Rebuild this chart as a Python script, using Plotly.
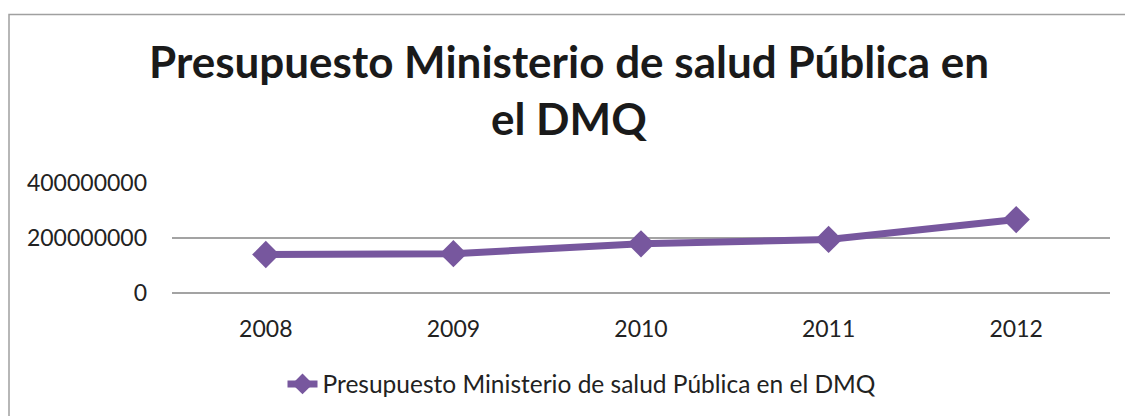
import plotly.graph_objects as go

years = ["2008", "2009", "2010", "2011", "2012"]
presupuesto = [140000000, 143000000, 179000000, 195000000, 267000000]
y_ticks = [0, 200000000, 400000000]
title_line1 = "Presupuesto Ministerio de salud Pública en"
title_line2 = "el DMQ"
series_name = "Presupuesto Ministerio de salud Pública en el DMQ"

W, H = 1125, 416
L, R = 172, 1110
T, B = 183, 294
pw, ph = R - L, B - T

def px(x):
    return (x - L) / pw

def py(y):
    return (B - y) / ph

purple = "#77579E"
grid = "#A3A3A3"
font = "Lato"

fig = go.Figure()
fig.add_trace(go.Scatter(
    x=years, y=presupuesto, name=series_name, mode="lines+markers",
    line=dict(color=purple, width=7),
    marker=dict(symbol="diamond", size=21, color=purple),
))

fig.update_layout(
    width=W, height=H,
    margin=dict(l=L, r=W - R, t=T, b=H - B),
    paper_bgcolor="white", plot_bgcolor="white",
    font=dict(family=font, size=23, color="#222222"),
    showlegend=True,
    legend=dict(orientation="h", x=px(582), y=py(384), xanchor="center", yanchor="middle",
                font=dict(family=font, size=24.5, color="#222222"), bgcolor="rgba(0,0,0,0)"),
    xaxis=dict(type="category", range=[-0.5, 4.5], showgrid=False, showline=False,
               ticks="", ticklabelstandoff=20, tickfont=dict(family=font, size=23, color="#222222")),
    yaxis=dict(range=[0, 400000000], tickvals=y_ticks, ticktext=[str(v) for v in y_ticks],
               showgrid=True, gridcolor=grid, gridwidth=1.5, zeroline=True, zerolinecolor=grid,
               zerolinewidth=1.5, showline=False, ticks="", ticklabelstandoff=24,
               tickfont=dict(family=font, size=23, color="#222222")),
    annotations=[
        dict(text="<b>" + title_line1 + "</b>", xref="paper", yref="paper",
             x=px(569), y=py(60), xanchor="center", yanchor="middle", showarrow=False,
             font=dict(family=font, size=44, color="#1a1a1a")),
        dict(text="<b>" + title_line2 + "</b>", xref="paper", yref="paper",
             x=px(569), y=py(117), xanchor="center", yanchor="middle", showarrow=False,
             font=dict(family=font, size=44, color="#1a1a1a")),
    ],
    shapes=[
        dict(type="rect", xref="paper", yref="paper",
             x0=px(9), x1=px(1135), y0=py(425), y1=py(13),
             line=dict(color="#A0A0A0", width=1.5), fillcolor="rgba(0,0,0,0)", layer="below"),
    ],
)

fig.write_html("out.html")
